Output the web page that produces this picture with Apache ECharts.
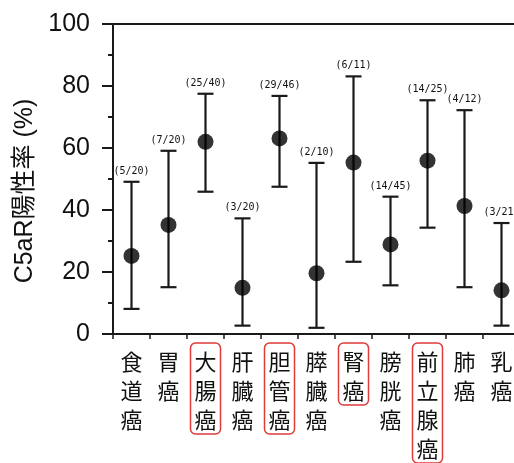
<!DOCTYPE html>
<html>
<head>
<meta charset="utf-8">
<script src="https://cdn.jsdelivr.net/npm/echarts@6/dist/echarts.min.js"></script>
<style>
html,body{margin:0;padding:0;background:#fff;}
#chart{width:514px;height:463px;}
</style>
</head>
<body>
<div id="chart"></div>
<script>
var categories = ['食道癌','胃癌','大腸癌','肝臓癌','胆管癌','膵臓癌','腎癌','膀胱癌','前立腺癌','肺癌','乳癌'];
var pointValues = [25.2, 35.2, 62.0, 14.9, 63.1, 19.6, 55.3, 28.9, 55.9, 41.3, 14.1];
var upperValues = [49.1, 59.1, 77.5, 37.3, 76.8, 55.2, 83.1, 44.3, 75.4, 72.2, 35.8];
var lowerValues = [8.1, 15.1, 45.9, 2.7, 47.5, 2.0, 23.3, 15.7, 34.3, 15.1, 2.7];
var countLabels = ['(5/20)','(7/20)','(25/40)','(3/20)','(29/46)','(2/10)','(6/11)','(14/45)','(14/25)','(4/12)','(3/21)'];
var highlighted = [false,false,true,false,true,false,true,false,true,false,false];
var yTicks = [0, 20, 40, 60, 80, 100];

var ink = '#1a1a1a';

var xData = categories.map(function (c, i) {
  var item = { value: c };
  if (highlighted[i]) {
    item.textStyle = { borderColor: '#e03a3a', borderWidth: 1.5, borderRadius: 5 };
  }
  return item;
});

var errData = categories.map(function (c, i) { return [i, lowerValues[i], upperValues[i], countLabels[i]]; });

var chart = echarts.init(document.getElementById('chart'), null, { renderer: 'canvas' });
chart.setOption({
  animation: false,
  backgroundColor: '#fff',
  grid: { left: 113, top: 24, width: 407, height: 310, outerBoundsMode: 'none', containLabel: false, show: true, borderColor: ink, borderWidth: 2 },
  xAxis: {
    type: 'category',
    data: xData,
    axisLine: { lineStyle: { color: ink, width: 2 } },
    axisTick: { show: true, length: 5, lineStyle: { color: ink, width: 1.5 } },
    axisLabel: {
      interval: 0,
      margin: 9,
      fontFamily: 'Noto Sans CJK JP',
      fontSize: 22,
      lineHeight: 29,
      color: '#111',
      padding: [4, 4, 0, 4],
      formatter: function (v) { return v.split('').join('\n'); }
    }
  },
  yAxis: {
    type: 'value',
    min: 0, max: 100, interval: 20,
    name: 'C5aR陽性率 (%)',
    nameLocation: 'middle',
    nameGap: 66,
    nameTextStyle: { fontFamily: 'Liberation Sans, Noto Sans CJK JP', fontSize: 25, color: '#111', padding: [0, 24, 0, 0] },
    axisLine: { show: true, lineStyle: { color: ink, width: 2 } },
    axisTick: { show: true, length: 11, lineStyle: { color: ink, width: 2 } },
    minorTick: { show: true, splitNumber: 2, length: 5, lineStyle: { color: ink, width: 2 } },
    splitLine: { show: false },
    axisLabel: {
      margin: 23,
      fontFamily: 'Liberation Sans',
      fontSize: 25,
      color: '#111',
      formatter: function (v) { return yTicks.indexOf(v) >= 0 ? String(v) : ''; }
    }
  },
  series: [
    {
      type: 'custom',
      data: errData,
      encode: { x: 0, y: [1, 2] },
      clip: false,
      renderItem: function (params, api) {
        var x = api.value(0);
        var lo = api.coord([x, api.value(1)]);
        var hi = api.coord([x, api.value(2)]);
        var half = 8;
        return {
          type: 'group',
          children: [
            { type: 'line', shape: { x1: lo[0], y1: lo[1], x2: hi[0], y2: hi[1] }, style: { stroke: ink, lineWidth: 2.2 } },
            { type: 'line', shape: { x1: lo[0] - half, y1: lo[1], x2: lo[0] + half, y2: lo[1] }, style: { stroke: ink, lineWidth: 2.2 } },
            { type: 'line', shape: { x1: hi[0] - half, y1: hi[1], x2: hi[0] + half, y2: hi[1] }, style: { stroke: ink, lineWidth: 2.2 } },
            { type: 'text', x: hi[0], y: hi[1] - 10.5, style: { text: countLabels[params.dataIndex], fontFamily: 'DejaVu Sans Mono', fontSize: 10, fill: '#111', align: 'center', verticalAlign: 'middle' } }
          ]
        };
      },
      z: 2
    },
    {
      type: 'scatter',
      data: pointValues,
      symbol: 'circle',
      symbolSize: 16,
      itemStyle: { color: '#000' },
      z: 3
    }
  ]
});
</script>
</body>
</html>
